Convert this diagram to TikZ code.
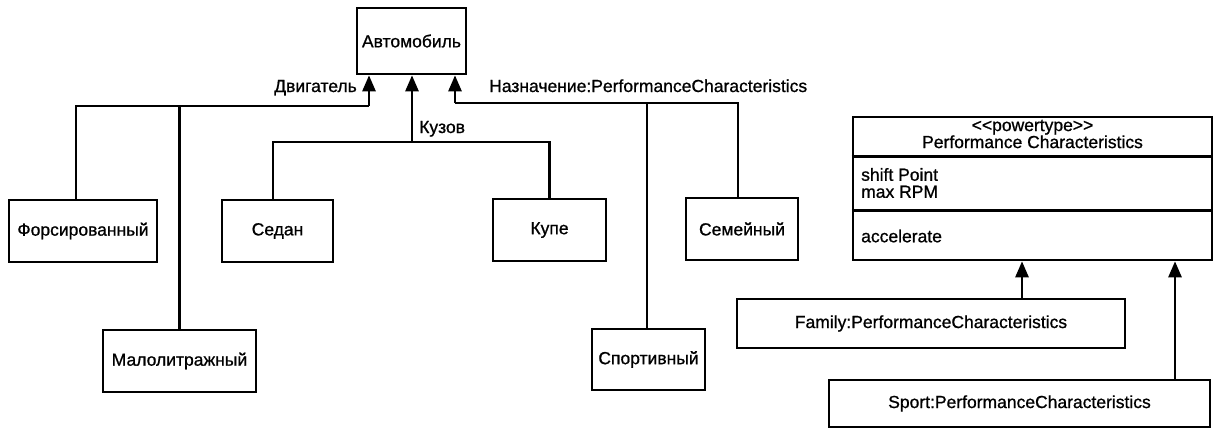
\documentclass[tikz,border=0pt]{standalone}
\usepackage{fontspec}
\setmainfont{Liberation Sans}
\newfontfamily\dfont{Liberation Sans}[FakeBold=0.9]
\usetikzlibrary{arrows.meta}
\begin{document}
\begin{tikzpicture}[x=1pt,y=-1pt,
  every node/.style={font=\dfont\fontsize{17.5}{17}\selectfont},
  box/.style={draw, line width=2.6pt, inner sep=0pt, align=center},
  conn/.style={line width=2.6pt},
  arr/.style={line width=2.6pt, -{Triangle[length=16pt,width=13pt]}},
  lbl/.style={inner sep=0pt}]
\useasboundingbox (0,0) rectangle (1214,429);
% classes
\node[box, minimum width=109, minimum height=66] (auto) at (411.5,41) {Автомобиль};
\node[box, minimum width=148, minimum height=62] (forc) at (83,231) {Форсированный};
\node[box, minimum width=153, minimum height=62] (malo) at (179.5,361) {Малолитражный};
\node[box, minimum width=111, minimum height=62] (sedan) at (277.5,231) {Седан};
\node[box, minimum width=113, minimum height=62] (kupe) at (549.5,230) {Купе};
\node[box, minimum width=113, minimum height=61] (sport) at (648.5,359.5) {Спортивный};
\node[box, minimum width=112, minimum height=62] (sem) at (742,229) {Семейный};
% junctions
\coordinate (j1) at (369,106);
\coordinate (j2) at (412,142);
\coordinate (j3) at (455,103);
% Двигатель
\draw[conn] ([xshift=-7]forc.north) |- (j1);
\draw[conn] (malo.north) -- (malo.north |- j1);
\draw[arr] (j1) -- (j1 |- auto.south);
% Кузов
\draw[conn] ([xshift=-4.5]sedan.north) |- (j2);
\draw[conn] (kupe.north) |- (j2);
\draw[arr] (j2) -- (j2 |- auto.south);
% Назначение
\draw[conn] ([xshift=-4]sem.north) |- (j3);
\draw[conn] ([xshift=-1.5]sport.north) -- ([xshift=-1.5]sport.north |- j3);
\draw[arr] (j3) -- (j3 |- auto.south);
% labels
\node[lbl, anchor=base east] (ldv) at (357,92) {Двигатель};
\node[lbl, anchor=base west] (lku) at (419,133) {Кузов};
\node[lbl, anchor=base west] (lna) at (489,92) {Назначение:PerformanceCharacteristics};
% powertype class
\node[box, minimum width=359, minimum height=143] (pc) at (1032.5,188.5) {};
\draw[conn] ([yshift=-41]pc.north west) -- ([yshift=-41]pc.north east);
\draw[conn] ([yshift=-95]pc.north west) -- ([yshift=-95]pc.north east);
\node[lbl, align=center] (pcname) at (1032.5,134) {<{}<powertype>{}>\\Performance Characteristics};
\node[lbl, align=left, anchor=west] (pcattr) at (861,183) {shift Point\\max RPM};
\node[lbl, anchor=west] (pcop) at (861,236) {accelerate};
% instances
\node[box, minimum width=388, minimum height=49] (fam) at (931,323.5) {Family:PerformanceCharacteristics};
\node[box, minimum width=381, minimum height=47] (spc) at (1019.5,403.5) {Sport:PerformanceCharacteristics};
\draw[arr] ([xshift=91]fam.north) -- ([xshift=91]fam.north |- pc.south);
\draw[arr] ([xshift=155.5]spc.north) -- ([xshift=155.5]spc.north |- pc.south);
\end{tikzpicture}
\end{document}
